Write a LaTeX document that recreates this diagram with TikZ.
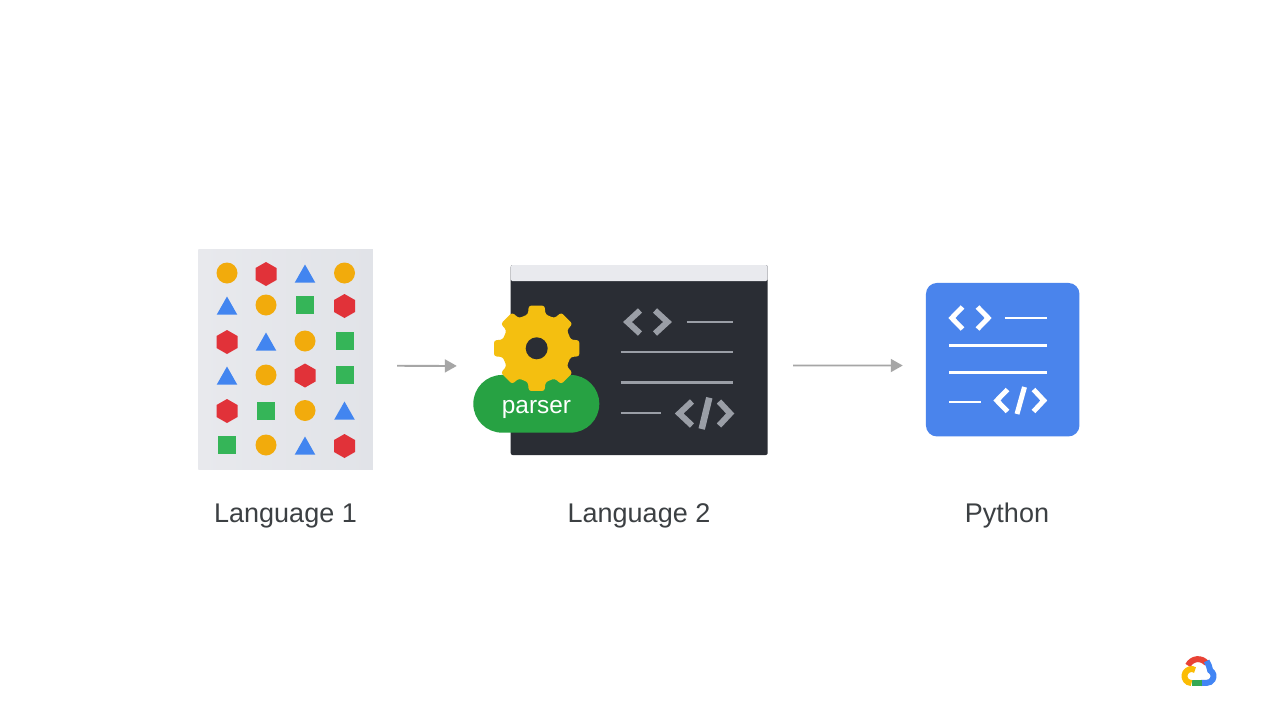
\documentclass[tikz,border=0pt]{standalone}
\usepackage{fontspec}
\setmainfont{Liberation Sans}
\usetikzlibrary{arrows.meta}
\definecolor{gorange}{HTML}{F2AB0C}
\definecolor{gred}{HTML}{E13239}
\definecolor{gblue}{HTML}{4285F0}
\definecolor{ggreen}{HTML}{35B558}
\definecolor{bluebox}{HTML}{4A84EC}
\definecolor{darkwin}{HTML}{2A2D34}
\definecolor{barcol}{HTML}{E9EAEE}
\definecolor{codegrey}{HTML}{9A9EA6}
\definecolor{geary}{HTML}{F4BF10}
\definecolor{pillgreen}{HTML}{27A243}
\definecolor{labelcol}{HTML}{3C4043}
\definecolor{arrowcol}{HTML}{A6A6A6}
\definecolor{panelL}{HTML}{E8E9ED}
\definecolor{panelM}{HTML}{F1F2F4}
\definecolor{panelR}{HTML}{E1E3E8}
\definecolor{logored}{HTML}{E94235}
\definecolor{logoblue}{HTML}{4285F4}
\definecolor{logogreen}{HTML}{34A853}
\definecolor{logoyellow}{HTML}{FBBC04}
\tikzset{
  panelbox/.style={inner sep=0pt,minimum width=174.7pt,minimum height=220.7pt,left color=panelL,middle color=panelM,right color=panelR},
  captiontext/.style={anchor=base,text=labelcol,font=\fontsize{27}{32}\selectfont},
  flow/.style={draw=arrowcol,line width=1.8pt,-{Triangle[length=12pt,width=13pt]}},
  codeline/.style={line width=2.2pt,line cap=butt},
  chevron/.style={line width=6pt,miter limit=10,line join=miter},
  whitechevron/.style={line width=5pt,miter limit=10,line join=miter},
  logostroke/.style={line width=6pt,line cap=butt},
}
\newcommand{\circat}[2]{\fill[gorange] (#1,#2) circle[radius=10.5];}
\newcommand{\squareat}[2]{\fill[ggreen] (#1-9,#2-9) rectangle (#1+9,#2+9);}
\newcommand{\triat}[2]{\fill[gblue] (#1,#2-9.5) -- (#1+10.3,#2+8.7) -- (#1-10.3,#2+8.7) -- cycle;}
\newcommand{\hexat}[2]{\fill[gred] (#1,#2-12) -- (#1+10.5,#2-6) -- (#1+10.5,#2+6) -- (#1,#2+12) -- (#1-10.5,#2+6) -- (#1-10.5,#2-6) -- cycle;}
\begin{document}
\begin{tikzpicture}[x=1pt,y=-1pt]
\useasboundingbox (0,0) rectangle (1280,720);
\fill[white] (0,0) rectangle (1280,720);

% Language 1 panel
\node[panelbox] (lang1) at (285.6,359.6) {};
\circat{227}{273}\hexat{266}{274}\triat{305}{274}\circat{344.5}{273}
\triat{227}{306}\circat{266}{305}\squareat{305}{305}\hexat{344.5}{306}
\hexat{227}{342}\triat{266}{342}\circat{305}{341}\squareat{344.5}{341}
\triat{227}{376}\circat{266}{375}\hexat{305}{375.5}\squareat{344.5}{375}
\hexat{227}{411}\squareat{266}{411}\circat{305}{410.5}\triat{344.5}{411}
\squareat{227}{445}\circat{266}{445}\triat{305}{446}\hexat{344.5}{446}

% Language 2 window
\node[fill=darkwin,rounded corners=2pt,inner sep=0pt,minimum width=257pt,minimum height=190pt] (win) at (639.2,360) {};
\node[fill=barcol,rounded corners=1.5pt,inner sep=0pt,minimum width=257pt,minimum height=16pt] (winbar) at (639.2,273) {};
\begin{scope}[draw=codegrey,color=codegrey]
\draw[chevron] (640,310.5) -- (627.5,322) -- (640,333.5);
\draw[chevron] (655,310.5) -- (667.5,322) -- (655,333.5);
\draw[codeline] (686.7,322) -- (733.3,322);
\draw[codeline] (620.7,352) -- (733.3,352);
\draw[codeline] (620.7,382.5) -- (733.3,382.5);
\draw[codeline] (620.7,413) -- (660.7,413);
\draw[chevron] (692,401.5) -- (679.2,413.5) -- (692,425.5);
\draw[chevron,line width=6.5pt,line cap=butt] (709.3,397.7) -- (701.7,429);
\draw[chevron] (719,401.5) -- (730.2,413.5) -- (719,425.5);
\end{scope}

% Parser
\node[fill=pillgreen,rounded corners=28.8pt,inner sep=0pt,minimum width=126pt,minimum height=57.7pt] (pill) at (536.3,403.8) {};
\fill[geary,rounded corners=2.5pt] ([shift={(536.7,348.3)}]-22.5:35)
  \foreach \a in {0,45,...,315} {
    -- ([shift={(536.7,348.3)}]\a-14.5:35)
    -- ([shift={(536.7,348.3)}]\a-10.5:43.4) -- ([shift={(536.7,348.3)}]\a+10.5:43.4) -- ([shift={(536.7,348.3)}]\a+14.5:35)
  } -- cycle;
\node[fill=darkwin,circle,inner sep=0pt,minimum size=22pt] (hole) at (536.7,348.3) {};
\node[anchor=base,text=white,font=\fontsize{24.4}{28}\selectfont,inner sep=0pt] (parser) at (536.5,413) {parser};

% Python box
\node[fill=bluebox,rounded corners=11pt,inner sep=0pt,minimum width=153.5pt,minimum height=153.5pt] (py) at (1002.7,359.7) {};
\begin{scope}[draw=white,color=white]
\draw[whitechevron] (962.5,307) -- (951.8,318) -- (962.5,329);
\draw[whitechevron] (977.5,307) -- (988.2,318) -- (977.5,329);
\draw[codeline] (1004.7,318) -- (1047.3,318);
\draw[codeline] (949.3,345.5) -- (1047.3,345.5);
\draw[codeline] (949.3,372.5) -- (1047.3,372.5);
\draw[codeline] (949.3,402) -- (981.3,402);
\draw[whitechevron] (1007.5,389.5) -- (996.8,400.5) -- (1007.5,411.5);
\draw[whitechevron,line cap=butt] (1024.5,387) -- (1017,414);
\draw[whitechevron] (1033.5,389.5) -- (1043.8,400.5) -- (1033.5,411.5);
\end{scope}

% Connectors
\draw[flow,shorten <=24pt,shorten >=53.7pt] ([yshift=-6.2pt]lang1.east) -- ([yshift=-6pt]win.west);
\draw[flow,shorten <=25.3pt,shorten >=23pt] ([yshift=-5.6pt]win.east) -- ([yshift=-5.8pt]py.west);

% Captions
\node[captiontext] (cap1) at (285.5,522) {Language 1};
\node[captiontext] (cap2) at (639,522) {Language 2};
\node[captiontext] (cap3) at (1007,522) {Python};

% Cloud logo
\draw[logostroke,draw=logored] (1188,665.5) arc[start angle=205,end angle=320,radius=11];
\draw[logostroke,draw=logoblue] (1206.6,661) .. controls (1208.5,664) and (1209.5,667) .. (1210.2,670.5) arc[start angle=-60,end angle=90,radius=6.6] -- (1201,683);
\draw[logostroke,draw=logogreen] (1191.5,683) -- (1201.5,683);
\draw[logostroke,draw=logoyellow] (1195,670) arc[start angle=-60,end angle=-270,radius=7];
\end{tikzpicture}
\end{document}
